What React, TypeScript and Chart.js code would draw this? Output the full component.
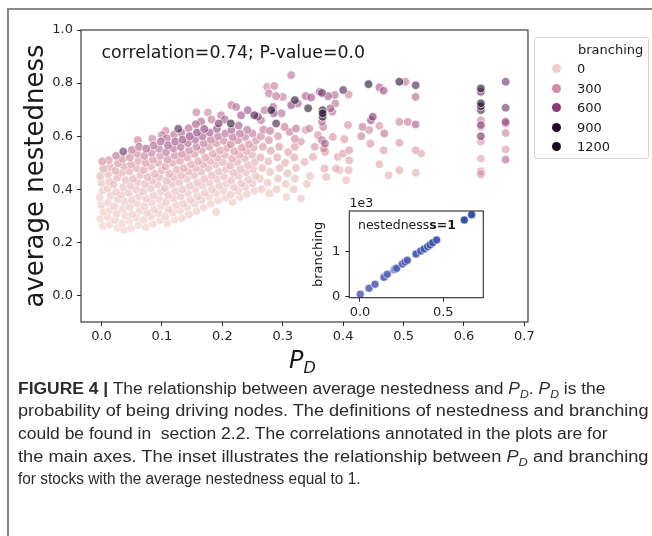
import React, { useEffect, useLayoutEffect, useRef } from "react";
import { Chart, registerables } from "chart.js";

Chart.register(...registerables);

type Pt = [number, number, number]; // [P_D, average nestedness, branching]

// dense cloud of low-P_D stocks (left half)
const denseLeft: Pt[] = [
  [0.002,0.262,10],[-0.002,0.288,20],[0.003,0.316,25],[0.000,0.342,35],[-0.003,0.37,50],[0.002,0.396,70],[0.000,0.424,100],[-0.002,0.45,150],[0.003,0.477,230],[0.001,0.505,330],
  [0.013,0.268,15],[0.010,0.296,20],[0.014,0.322,30],[0.011,0.35,45],[0.015,0.376,60],[0.010,0.404,80],[0.013,0.43,110],[0.011,0.457,160],[0.014,0.484,220],[0.012,0.51,300],
  [0.026,0.255,10],[0.022,0.283,25],[0.025,0.309,35],[0.021,0.336,50],[0.027,0.363,70],[0.024,0.39,90],[0.020,0.418,120],[0.026,0.444,170],[0.023,0.47,230],[0.027,0.498,300],[0.024,0.526,420],
  [0.037,0.248,10],[0.034,0.272,20],[0.039,0.3,30],[0.035,0.327,45],[0.038,0.354,60],[0.033,0.38,80],[0.036,0.408,110],[0.040,0.435,140],[0.034,0.462,190],[0.037,0.488,250],[0.035,0.515,340],[0.036,0.542,720],
  [0.049,0.252,15],[0.046,0.28,25],[0.051,0.306,35],[0.047,0.333,50],[0.050,0.36,70],[0.045,0.387,95],[0.048,0.414,120],[0.052,0.44,160],[0.046,0.468,210],[0.049,0.494,270],[0.047,0.52,350],[0.050,0.548,420],
  [0.061,0.265,20],[0.058,0.293,30],[0.063,0.32,40],[0.059,0.346,55],[0.062,0.373,75],[0.057,0.4,100],[0.060,0.427,130],[0.064,0.454,170],[0.058,0.48,220],[0.061,0.507,280],[0.059,0.534,360],[0.062,0.56,450],[0.060,0.585,380],
  [0.073,0.258,20],[0.070,0.285,30],[0.075,0.312,45],[0.071,0.338,60],[0.074,0.365,80],[0.069,0.392,105],[0.072,0.42,135],[0.076,0.446,180],[0.070,0.473,230],[0.073,0.5,290],[0.071,0.526,380],[0.074,0.553,500],
  [0.085,0.27,25],[0.082,0.298,35],[0.087,0.324,50],[0.083,0.351,65],[0.086,0.378,85],[0.081,0.404,110],[0.084,0.432,140],[0.088,0.458,190],[0.082,0.486,240],[0.085,0.512,310],[0.083,0.538,380],[0.086,0.565,470],[0.084,0.59,360],
  [0.097,0.284,30],[0.094,0.31,40],[0.099,0.338,55],[0.095,0.364,70],[0.098,0.392,90],[0.093,0.418,120],[0.096,0.445,150],[0.100,0.472,200],[0.094,0.5,260],[0.097,0.526,330],[0.095,0.553,420],[0.098,0.58,520],[0.100,0.604,400],
  [0.109,0.272,25],[0.106,0.298,40],[0.111,0.325,55],[0.107,0.352,75],[0.110,0.378,95],[0.105,0.405,125],[0.108,0.432,160],[0.112,0.459,210],[0.106,0.486,270],[0.109,0.512,340],[0.107,0.54,430],[0.110,0.566,520],[0.108,0.592,450],[0.106,0.62,360],
];

// dense cloud of low-P_D stocks (right half)
const denseRight: Pt[] = [
  [0.121,0.286,30],[0.118,0.312,45],[0.123,0.34,60],[0.119,0.366,80],[0.122,0.393,100],[0.117,0.42,130],[0.120,0.446,170],[0.124,0.474,220],[0.118,0.5,280],[0.121,0.527,360],[0.119,0.554,450],[0.122,0.58,560],[0.120,0.606,420],[0.127,0.628,780],
  [0.133,0.292,35],[0.130,0.32,50],[0.135,0.346,65],[0.131,0.373,85],[0.134,0.4,110],[0.129,0.426,140],[0.132,0.453,180],[0.136,0.48,230],[0.130,0.507,290],[0.133,0.534,370],[0.131,0.56,470],[0.134,0.587,580],[0.132,0.614,500],
  [0.145,0.306,35],[0.142,0.333,50],[0.147,0.36,70],[0.143,0.386,90],[0.146,0.413,115],[0.141,0.44,150],[0.144,0.467,190],[0.148,0.494,240],[0.142,0.52,300],[0.145,0.547,380],[0.143,0.574,480],[0.146,0.6,600],[0.144,0.63,460],
  [0.157,0.318,40],[0.154,0.346,55],[0.159,0.373,75],[0.155,0.4,95],[0.158,0.426,120],[0.153,0.453,160],[0.156,0.48,200],[0.160,0.506,250],[0.154,0.533,310],[0.157,0.56,400],[0.155,0.587,500],[0.158,0.614,620],[0.156,0.645,520],[0.157,0.69,380],
  [0.169,0.332,40],[0.166,0.36,60],[0.171,0.387,80],[0.167,0.414,100],[0.170,0.44,130],[0.165,0.467,170],[0.168,0.494,210],[0.172,0.52,260],[0.166,0.547,320],[0.169,0.574,410],[0.167,0.6,520],[0.170,0.627,630],[0.165,0.655,480],
  [0.181,0.345,45],[0.178,0.372,60],[0.183,0.4,80],[0.179,0.426,105],[0.182,0.453,135],[0.177,0.48,175],[0.180,0.507,220],[0.184,0.534,270],[0.178,0.56,330],[0.181,0.587,420],[0.179,0.614,540],[0.182,0.663,400],[0.176,0.689,340],
  [0.190,0.314,30],[0.193,0.358,50],[0.190,0.386,65],[0.195,0.413,85],[0.191,0.44,110],[0.194,0.467,140],[0.189,0.494,180],[0.192,0.52,230],[0.196,0.547,280],[0.190,0.574,350],[0.193,0.6,440],[0.191,0.628,560],[0.194,0.648,700],
  [0.205,0.368,50],[0.202,0.395,70],[0.207,0.422,90],[0.203,0.448,115],[0.206,0.476,145],[0.201,0.502,185],[0.204,0.53,235],[0.208,0.556,290],[0.202,0.583,360],[0.205,0.61,450],[0.204,0.663,500],[0.198,0.679,430],
  [0.217,0.352,40],[0.214,0.38,70],[0.219,0.408,90],[0.215,0.435,120],[0.218,0.462,150],[0.213,0.49,190],[0.216,0.516,240],[0.220,0.543,300],[0.214,0.57,370],[0.217,0.597,450],[0.215,0.624,520],[0.214,0.648,900],[0.215,0.717,420],[0.223,0.71,450],
  [0.229,0.37,50],[0.226,0.395,70],[0.231,0.422,95],[0.227,0.45,120],[0.230,0.476,155],[0.225,0.503,195],[0.228,0.53,245],[0.232,0.557,310],[0.226,0.584,380],[0.229,0.61,460],[0.227,0.64,520],[0.231,0.679,540],
  [0.241,0.382,55],[0.238,0.41,75],[0.243,0.436,100],[0.239,0.463,125],[0.242,0.49,160],[0.237,0.517,200],[0.240,0.544,250],[0.244,0.57,320],[0.238,0.597,390],[0.241,0.624,450],[0.242,0.698,540],
  [0.253,0.395,60],[0.250,0.422,80],[0.255,0.45,105],[0.251,0.476,130],[0.254,0.503,165],[0.249,0.53,210],[0.252,0.557,260],[0.256,0.584,330],[0.250,0.61,400],[0.253,0.679,850],[0.259,0.673,580],[0.264,0.66,440],[0.270,0.698,420],
];

// thinner spread between P_D 0.26 and 0.34
const middleSpread: Pt[] = [
  [0.265,0.4,70],[0.262,0.44,100],[0.266,0.48,140],[0.263,0.52,200],[0.267,0.56,280],[0.264,0.6,350],[0.268,0.625,400],
  [0.278,0.385,60],[0.275,0.425,90],[0.279,0.465,130],[0.276,0.505,180],[0.28,0.545,250],[0.277,0.585,330],[0.279,0.62,420],
  [0.274,0.786,350],[0.286,0.789,380],[0.277,0.761,400],[0.289,0.751,420],[0.3,0.748,380],
  [0.32,0.736,950],[0.314,0.717,600],[0.325,0.723,500],
  [0.284,0.71,500],[0.281,0.698,950],[0.285,0.687,600],
  [0.289,0.648,850],[0.298,0.686,450],
  [0.303,0.635,400],[0.311,0.616,380],[0.322,0.629,420],
  [0.32,0.59,350],[0.33,0.58,300],[0.32,0.56,280],
  [0.29,0.4,70],[0.292,0.44,110],[0.295,0.48,150],[0.291,0.52,200],[0.294,0.56,280],[0.292,0.6,330],
  [0.306,0.371,50],[0.33,0.365,60],[0.305,0.42,90],[0.308,0.46,130],[0.304,0.5,180],[0.309,0.54,240],
  [0.318,0.4,80],[0.32,0.44,110],[0.322,0.48,150],[0.319,0.52,210],
  [0.314,0.83,420],[0.34,0.42,100],[0.345,0.45,120],
];

// sparse stocks with P_D between 0.33 and 0.53
const upperSpread: Pt[] = [
  [0.442,0.796,1000],[0.46,0.784,500],[0.467,0.771,550],[0.493,0.805,1100],[0.503,0.805,400],
  [0.52,0.792,800],[0.52,0.748,450],[0.4,0.774,780],[0.409,0.757,350],[0.386,0.755,450],
  [0.375,0.751,550],[0.365,0.763,720],[0.361,0.767,500],[0.347,0.746,550],[0.338,0.751,500],
  [0.342,0.705,900],[0.366,0.698,1100],[0.366,0.686,1200],[0.366,0.673,900],
  [0.379,0.705,500],[0.382,0.692,450],[0.387,0.723,400],
  [0.365,0.654,450],[0.367,0.635,400],[0.365,0.585,480],[0.37,0.572,500],[0.368,0.553,350],[0.37,0.541,300],
  [0.338,0.623,300],[0.344,0.629,350],[0.358,0.604,300],[0.383,0.597,300],[0.402,0.589,280],
  [0.408,0.642,320],[0.41,0.547,280],[0.4,0.535,250],[0.391,0.522,230],[0.41,0.509,220],
  [0.353,0.56,300],[0.35,0.522,200],[0.336,0.503,180],
  [0.369,0.478,200],[0.388,0.478,180],[0.394,0.472,160],[0.409,0.472,170],[0.372,0.446,150],[0.405,0.434,120],
  [0.446,0.66,600],[0.449,0.673,650],[0.432,0.635,400],[0.43,0.6,380],[0.443,0.623,350],
  [0.46,0.639,300],[0.468,0.61,420],[0.445,0.572,300],[0.467,0.547,250],[0.46,0.494,200],[0.475,0.453,150],
  [0.493,0.654,350],[0.507,0.654,380],[0.52,0.644,500],[0.493,0.575,280],
  [0.52,0.547,250],[0.529,0.535,230],[0.493,0.472,200],[0.52,0.462,180],
];

// two vertical columns of stocks at high P_D
const farColumns: Pt[] = [
  [0.628,0.78,1100],[0.628,0.767,700],[0.628,0.724,1000],[0.628,0.713,900],[0.628,0.698,800],
  [0.628,0.66,350],[0.628,0.642,600],[0.628,0.635,300],[0.628,0.6,700],[0.628,0.579,250],
  [0.628,0.516,200],[0.628,0.468,280],[0.628,0.457,300],
  [0.669,0.805,700],[0.669,0.707,700],[0.669,0.654,600],[0.669,0.648,450],[0.669,0.612,350],
  [0.669,0.55,250],[0.669,0.512,450],
];

const mainXTicks = [0, 0.1, 0.2, 0.3, 0.4, 0.5, 0.6, 0.7];
const mainYTicks = [0, 0.2, 0.4, 0.6, 0.8, 1.0];
const legendLevels = [0, 300, 600, 900, 1200];

// inset: stocks with average nestedness equal to 1
const insetPD = [0.002, 0.054, 0.09, 0.144, 0.164, 0.205, 0.212, 0.22, 0.254, 0.27, 0.284, 0.336, 0.364, 0.385, 0.406, 0.42, 0.436, 0.46, 0.626, 0.67];
const insetBranching = [55, 186, 275, 430, 497, 600, 615, 630, 727, 770, 808, 949, 1015, 1060, 1111, 1150, 1200, 1260, 1704, 1822];
const insetXTicks = [0, 0.5];
const insetYTicks = [0, 1000];

const FONT = "DejaVu Sans";
const STOPS: [number, number[]][] = [
  [0, [239, 207, 197]],
  [300, [214, 139, 158]],
  [600, [140, 58, 121]],
  [900, [35, 14, 42]],
  [1200, [28, 10, 36]],
];

function hue(b: number, a: number): string {
  let c = STOPS[STOPS.length - 1][1];
  if (b <= STOPS[0][0]) c = STOPS[0][1];
  for (let i = 0; i < STOPS.length - 1; i++) {
    const [b0, c0] = STOPS[i];
    const [b1, c1] = STOPS[i + 1];
    if (b >= b0 && b <= b1) {
      const t = (b - b0) / (b1 - b0);
      c = c0.map((v, k) => v + (c1[k] - v) * t);
      break;
    }
  }
  return `rgba(${Math.round(c[0])},${Math.round(c[1])},${Math.round(c[2])},${a})`;
}

function insetColor(b: number): string {
  const t = Math.max(0, Math.min(1, b / 1800));
  const r = 105 + (38 - 105) * t;
  const g = 110 + (72 - 110) * t;
  const bl = 195 + (165 - 195) * t;
  return `rgba(${Math.round(r)},${Math.round(g)},${Math.round(bl)},0.95)`;
}

const framePlugin = {
  id: "frame",
  beforeDatasetsDraw(chart: any, _a: any, opts: any) {
    if (!opts || !opts.fill) return;
    const { ctx, chartArea: ca } = chart;
    ctx.save();
    ctx.fillStyle = opts.fill;
    ctx.fillRect(ca.left, ca.top, ca.right - ca.left, ca.bottom - ca.top);
    ctx.restore();
  },
  afterDraw(chart: any, _a: any, opts: any) {
    const { ctx, chartArea: ca } = chart;
    ctx.save();
    ctx.strokeStyle = (opts && opts.color) || "#333";
    ctx.lineWidth = (opts && opts.width) || 1;
    ctx.strokeRect(ca.left, ca.top, ca.right - ca.left, ca.bottom - ca.top);
    ctx.restore();
  },
};

const subStyle: React.CSSProperties = { fontSize: "70%" };
const captionLines: { right: number; content: React.ReactNode }[] = [
  {
    right: 605,
    content: (
      <>
        <b>FIGURE 4 |</b> The relationship between average nestedness and <i>P<sub style={subStyle}>D</sub></i>. <i>P<sub style={subStyle}>D</sub></i> is the
      </>
    ),
  },
  { right: 648, content: <>probability of being driving nodes. The definitions of nestedness and branching</> },
  { right: 607, content: <>could be found in  section 2.2. The correlations annotated in the plots are for</> },
  {
    right: 648,
    content: (
      <>
        the main axes. The inset illustrates the relationship between <i>P<sub style={subStyle}>D</sub></i> and branching
      </>
    ),
  },
  { right: 360, content: <>for stocks with the average nestedness equal to 1.</> },
];
const captionBaselines = [394, 416.6, 439.2, 461.8, 484.4];
const CAPTION_LEFT = 17.5;

export default function App() {
  const mainRef = useRef<HTMLCanvasElement | null>(null);
  const insetRef = useRef<HTMLCanvasElement | null>(null);
  const lineRefs = useRef<(HTMLDivElement | null)[]>([]);

  useLayoutEffect(() => {
    captionLines.forEach((ln, i) => {
      const el = lineRefs.current[i];
      if (!el) return;
      el.style.transform = "none";
      const w = el.getBoundingClientRect().width;
      if (w > 0) el.style.transform = `scaleX(${(ln.right - CAPTION_LEFT) / w})`;
    });
  }, []);

  useEffect(() => {
    const all = [...denseLeft, ...denseRight, ...middleSpread, ...upperSpread, ...farColumns]
      .map(([x, y, b]) => ({ x, y, b }))
      .sort((p, q) => p.b - q.b);

    const tickFont = { family: FONT, size: 13 };
    const main = new Chart(mainRef.current as HTMLCanvasElement, {
      type: "scatter",
      data: {
        datasets: [
          {
            data: all as any,
            pointRadius: 4.3,
            pointHoverRadius: 4.3,
            borderWidth: 0.8,
            borderColor: "rgba(255,255,255,0.85)",
            backgroundColor: (c: any) => hue(c.raw ? c.raw.b : 0, 0.6),
          },
        ],
      },
      options: {
        responsive: false,
        animation: false,
        events: [],
        layout: { padding: { top: 30, right: 124, left: 0, bottom: 0 }, autoPadding: false } as any,
        plugins: { legend: { display: false }, tooltip: { enabled: false }, frame: { color: "#2a2a2a", width: 1.1 } } as any,
        scales: {
          x: {
            type: "linear",
            min: -0.034,
            max: 0.706,
            afterBuildTicks: (s: any) => {
              s.ticks = mainXTicks.map((v) => ({ value: v }));
            },
            afterFit: (s: any) => {
              s.height = 78;
            },
            grid: { display: true, drawOnChartArea: false, drawTicks: true, tickLength: 4, color: "#2a2a2a" },
            border: { display: false },
            ticks: {
              font: tickFont,
              color: "#262626",
              padding: 3,
              maxRotation: 0,
              autoSkip: false,
              callback: (v: any) => Number(v).toFixed(1),
            },
          },
          y: {
            type: "linear",
            min: -0.1,
            max: 1.0,
            afterBuildTicks: (s: any) => {
              s.ticks = mainYTicks.map((v) => ({ value: v }));
            },
            afterFit: (s: any) => {
              s.width = 81;
            },
            grid: { display: true, drawOnChartArea: false, drawTicks: true, tickLength: 4, color: "#2a2a2a" },
            border: { display: false },
            title: {
              display: true,
              text: "average nestedness",
              font: { family: FONT, size: 26 },
              color: "#1a1a1a",
              padding: { top: 21, bottom: 0 },
            },
            ticks: {
              font: tickFont,
              color: "#262626",
              padding: 4,
              autoSkip: false,
              callback: (v: any) => Number(v).toFixed(1),
            },
          },
        },
      },
      plugins: [framePlugin as any],
    });

    const insetData = insetPD.map((x, i) => ({ x, y: insetBranching[i], b: insetBranching[i] }));
    const inset = new Chart(insetRef.current as HTMLCanvasElement, {
      type: "scatter",
      data: {
        datasets: [
          {
            data: insetData as any,
            pointRadius: 4,
            pointHoverRadius: 4,
            borderWidth: 0.6,
            borderColor: "rgba(255,255,255,0.9)",
            backgroundColor: (c: any) => insetColor(c.raw ? c.raw.b : 0),
          },
        ],
      },
      options: {
        responsive: false,
        animation: false,
        events: [],
        layout: { padding: { top: 26, right: 16.7, left: 0, bottom: 0 }, autoPadding: false } as any,
        plugins: { legend: { display: false }, tooltip: { enabled: false }, frame: { color: "#2a2a2a", width: 1.1, fill: "#ffffff" } } as any,
        scales: {
          x: {
            type: "linear",
            min: -0.064,
            max: 0.74,
            afterBuildTicks: (s: any) => {
              s.ticks = insetXTicks.map((v) => ({ value: v }));
            },
            afterFit: (s: any) => {
              s.height = 27.3;
            },
            grid: { display: true, drawOnChartArea: false, drawTicks: true, tickLength: 4, color: "#2a2a2a" },
            border: { display: false },
            ticks: {
              font: tickFont,
              color: "#262626",
              padding: 3.5,
              maxRotation: 0,
              autoSkip: false,
              callback: (v: any) => Number(v).toFixed(1),
            },
          },
          y: {
            type: "linear",
            min: -22,
            max: 1904,
            afterBuildTicks: (s: any) => {
              s.ticks = insetYTicks.map((v) => ({ value: v }));
            },
            afterFit: (s: any) => {
              s.width = 49.3;
            },
            grid: { display: true, drawOnChartArea: false, drawTicks: true, tickLength: 4, color: "#2a2a2a" },
            border: { display: false },
            title: {
              display: true,
              text: "branching",
              font: { family: FONT, size: 13 },
              color: "#1a1a1a",
              padding: { top: 11.2, bottom: 0 },
            },
            ticks: {
              font: tickFont,
              color: "#262626",
              padding: 5,
              autoSkip: false,
              callback: (v: any) => String(Number(v) / 1000),
            },
          },
        },
      },
      plugins: [framePlugin as any],
    });

    return () => {
      main.destroy();
      inset.destroy();
    };
  }, []);

  const txt: React.CSSProperties = { position: "absolute", fontFamily: FONT, color: "#1a1a1a", whiteSpace: "pre" };

  return (
    <div style={{ position: "absolute", left: 0, top: 0, width: 652, height: 536, overflow: "hidden", background: "#fff" }}>
      <div
        style={{
          position: "absolute",
          left: 7,
          top: 8,
          width: 700,
          height: 600,
          borderLeft: "2px solid #8a8a8a",
          borderTop: "2px solid #8a8a8a",
        }}
      />
      <canvas ref={mainRef} width={652} height={400} style={{ position: "absolute", left: 0, top: 0, width: 652, height: 400 }} />
      <div style={{ ...txt, left: 101.5, top: 41, fontSize: 17.4, lineHeight: "22px" }}>correlation=0.74; P-value=0.0</div>
      <div style={{ ...txt, left: 289, top: 348, fontSize: 24, lineHeight: "24px", fontStyle: "italic" }}>
        P<span style={{ fontSize: 16, position: "relative", top: 5, lineHeight: 0 }}>D</span>
      </div>
      <canvas ref={insetRef} width={200} height={140} style={{ position: "absolute", left: 300, top: 185, width: 200, height: 140 }} />
      <div style={{ ...txt, left: 349.5, top: 195, fontSize: 12.5, lineHeight: "15px" }}>1e3</div>
      <div style={{ ...txt, left: 358, top: 217, fontSize: 12.5, lineHeight: "16px" }}>
        nestedness<b>s=1</b>
      </div>
      <div
        style={{
          position: "absolute",
          left: 534,
          top: 37,
          width: 113,
          height: 120,
          border: "1px solid #d4d4d4",
          borderRadius: 3,
          background: "rgba(255,255,255,0.85)",
        }}
      >
        <div style={{ ...txt, left: 43, top: 3, fontSize: 13, lineHeight: "17px" }}>branching</div>
        {legendLevels.map((lv, i) => (
          <React.Fragment key={lv}>
            <div
              style={{
                position: "absolute",
                left: 16.5,
                top: 26 + i * 19.6,
                width: 9,
                height: 9,
                borderRadius: "50%",
                background: hue(lv, 1),
              }}
            />
            <div style={{ ...txt, left: 42, top: 22 + i * 19.6, fontSize: 13, lineHeight: "17px" }}>{String(lv)}</div>
          </React.Fragment>
        ))}
      </div>
      {captionLines.map((ln, i) => (
        <div
          key={i}
          ref={(el) => {
            lineRefs.current[i] = el;
          }}
          style={{
            position: "absolute",
            left: CAPTION_LEFT,
            top: captionBaselines[i] - 16.3,
            fontFamily: "'Liberation Sans', Arial, sans-serif",
            fontSize: 16,
            lineHeight: "22px",
            color: "#2b2b2b",
            whiteSpace: "pre",
            display: "inline-block",
            transformOrigin: "0 50%",
          }}
        >
          {ln.content}
        </div>
      ))}
    </div>
  );
}
